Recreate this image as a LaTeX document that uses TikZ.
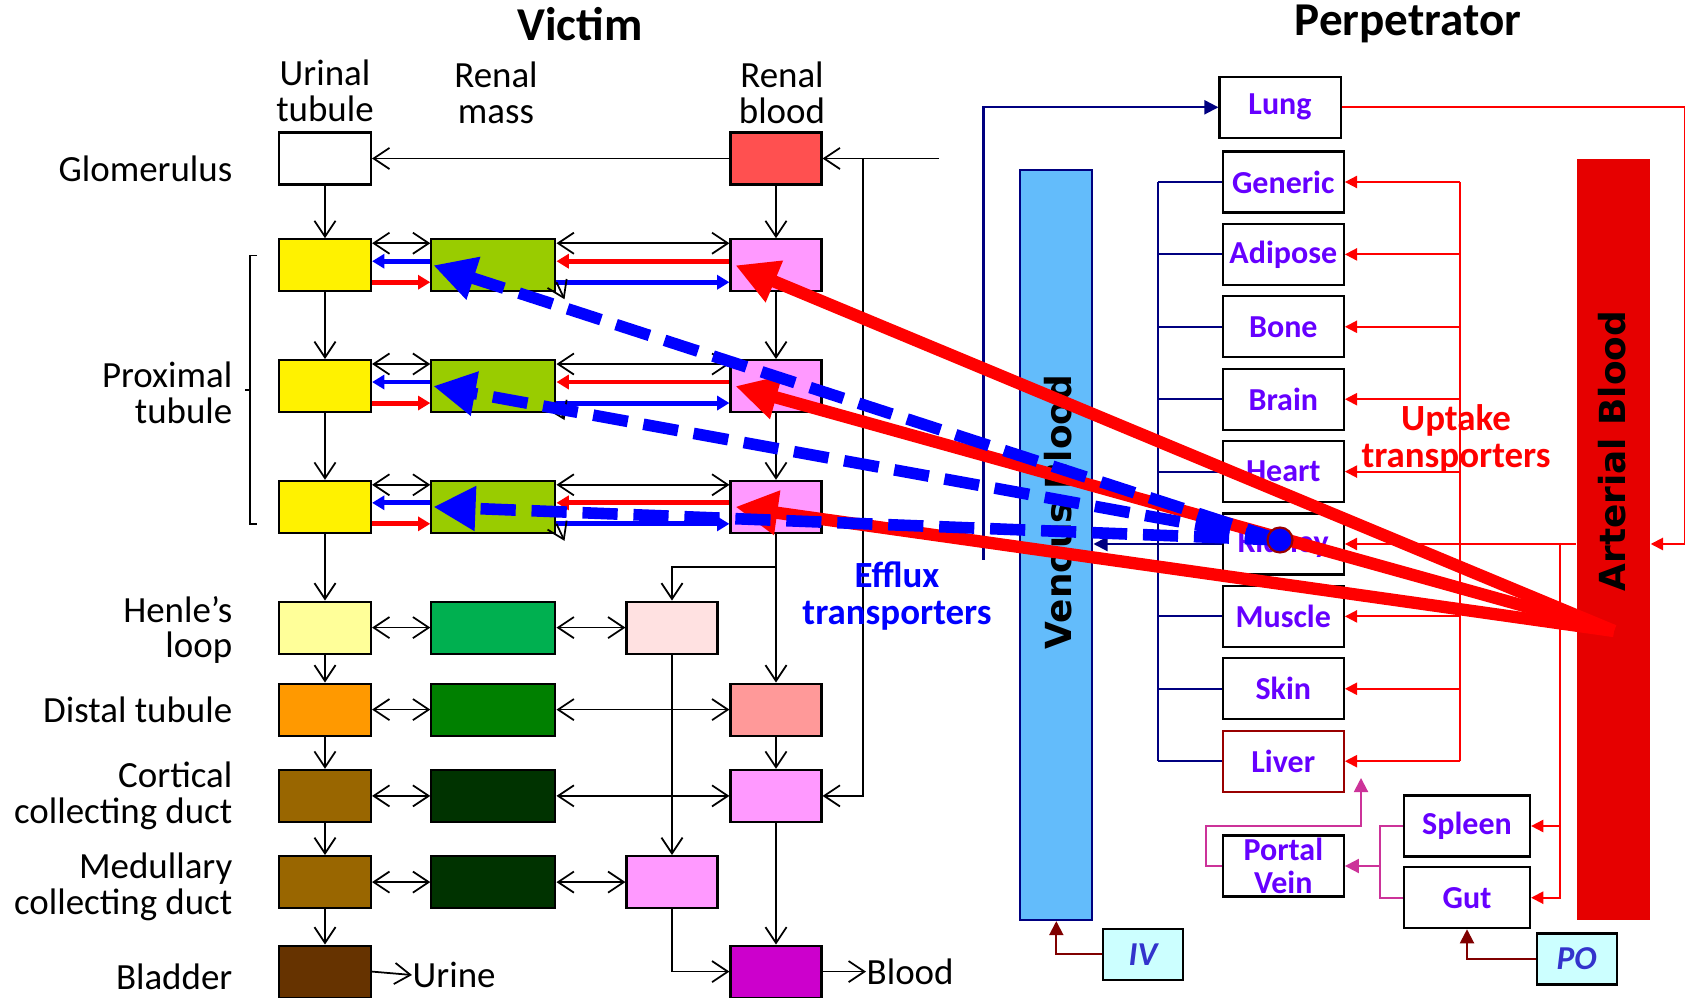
\documentclass[tikz,border=0pt]{standalone}
\usepackage{fontspec}
\setmainfont{Carlito}
\newfontfamily\barfont{DejaVu Sans}
\usetikzlibrary{arrows.meta, positioning}
\definecolor{lyel}{HTML}{FFFF99}
\definecolor{orng}{HTML}{FF9900}
\definecolor{brwn}{HTML}{996600}
\definecolor{dbrwn}{HTML}{663300}
\definecolor{mgrn}{HTML}{99CC00}
\definecolor{hgrn}{HTML}{00B050}
\definecolor{dgrn}{HTML}{008000}
\definecolor{vdgrn}{HTML}{003300}
\definecolor{rblood}{HTML}{FF5050}
\definecolor{pnk}{HTML}{FF99FF}
\definecolor{lpnk}{HTML}{FFE1E1}
\definecolor{salm}{HTML}{FF9999}
\definecolor{magn}{HTML}{CC00CC}
\definecolor{orgtxt}{HTML}{6600FF}
\definecolor{navy}{HTML}{000080}
\definecolor{venblue}{HTML}{63BCFB}
\definecolor{artred}{HTML}{E60000}
\definecolor{lvr}{HTML}{990000}
\definecolor{portalpink}{HTML}{CC3399}
\definecolor{dosered}{HTML}{800000}
\definecolor{dosebox}{HTML}{CCFFFF}
\definecolor{dosetxt}{HTML}{3333CC}

\begin{document}
\begin{tikzpicture}[x=0.01cm, y=-0.01cm]
    \tikzstyle{cell}=[draw=black, line width=0.6pt, minimum height=0.52cm, inner sep=0pt]
    \tikzstyle{ucell}=[cell, minimum width=0.92cm]
    \tikzstyle{mcell}=[cell, minimum width=1.24cm]
    \tikzstyle{bcell}=[cell, minimum width=0.91cm]
    \tikzstyle{lab}=[inner sep=0pt, font=\fontsize{10.5}{10.2}\selectfont]
    \tikzstyle{title}=[inner sep=0pt, font=\fontsize{13.4}{14}\selectfont\bfseries]
    \tikzstyle{flow}=[line width=0.5pt, -{Straight Barb[length=4.5pt,width=6pt]}]
    \tikzstyle{both}=[line width=0.5pt, {Straight Barb[length=4.5pt,width=6pt]}-{Straight Barb[length=4.5pt,width=6pt]}]
    \tikzstyle{redin}=[red, line width=1.4pt, -{Triangle[length=3.5pt,width=4pt]}]
    \tikzstyle{bluein}=[blue, line width=1.4pt, -{Triangle[length=3.5pt,width=4pt]}]
    \tikzstyle{org}=[draw=black, line width=0.6pt, minimum width=1.21cm, minimum height=0.61cm, inner sep=0pt, text=orgtxt, font=\fontsize{9.1}{9.1}\selectfont\bfseries, align=center]
    \tikzstyle{navyl}=[navy, line width=0.6pt]
    \tikzstyle{navyarr}=[navyl, -{Triangle[length=4pt,width=4pt]}]
    \tikzstyle{redl}=[red, line width=0.55pt]
    \tikzstyle{redarr}=[redl, -{Triangle[length=3.5pt,width=3.5pt]}]
    \tikzstyle{pinkl}=[portalpink, line width=0.55pt]
    \tikzstyle{pinkarr}=[pinkl, -{Triangle[length=4pt,width=4pt]}]
    \tikzstyle{doseline}=[dosered, line width=0.55pt, -{Triangle[length=4pt,width=4pt]}]
    \tikzstyle{dose}=[draw=black, line width=0.6pt, fill=dosebox, minimum width=0.8cm, minimum height=0.51cm, inner sep=0pt, text=dosetxt, font=\fontsize{9.5}{9.5}\selectfont\bfseries\itshape]
    \tikzstyle{barlab}=[inner sep=0pt, rotate=90, font=\barfont\fontsize{10.2}{10.2}\selectfont\bfseries]
    \tikzstyle{uptake}=[red, line width=3.5pt, -{Triangle[length=12pt,width=12pt]}]
    \tikzstyle{efflux}=[blue, line width=3.3pt, dash pattern=on 10pt off 4.5pt, -{Triangle[length=12pt,width=12pt]}]

    \useasboundingbox (0,0) rectangle (1691,998);

%   victim: kidney compartments
    \node[title] (victim) at (580,24) {Victim};
    \node[lab, align=center] (hU) at (325,91) {Urinal\\tubule};
    \node[lab, align=center] (hM) at (496,93) {Renal\\mass};
    \node[lab, align=center] (hB) at (782,93) {Renal\\blood};

	\foreach \n/\y/\c in {0/158.5/white, 1/265.3/yellow, 2/386.1/yellow, 3/506.9/yellow, 4/627.6/lyel, 5/709.6/orng, 6/795.9/brwn, 7/882.1/brwn, 8/971.6/dbrwn}{
		\node[ucell, fill=\c] (U-\n) at (325,\y) {};
	}
	\foreach \n/\y/\c in {1/265.3/mgrn, 2/386.1/mgrn, 3/506.9/mgrn, 4/627.6/hgrn, 5/709.6/dgrn, 6/795.9/vdgrn, 7/882.1/vdgrn}{
		\node[mcell, fill=\c] (M-\n) at (493.4,\y) {};
	}
	\foreach \n/\y/\c in {0/158.5/rblood, 1/265.3/pnk, 2/386.1/pnk, 3/506.9/pnk, 5/709.6/salm, 6/795.9/pnk, 8/971.6/magn}{
		\node[bcell, fill=\c] (B-\n) at (776,\y) {};
	}
	\node[bcell, fill=lpnk] (C-4) at (672,627.6) {};
	\node[bcell, fill=pnk] (C-7) at (672,882.1) {};

    \node[lab, anchor=east] (glom) at (233,169) {Glomerulus};
    \node[lab, anchor=east, align=right] (prox) at (233,393) {Proximal\\tubule};
    \node[lab, anchor=east, align=right] (henle) at (233,630) {Henle’s\\loop};
    \node[lab, anchor=east] (distal) at (233,709.6) {Distal tubule};
    \node[lab, anchor=east, align=right] (cort) at (233,796) {Cortical\\collecting duct};
    \node[lab, anchor=east, align=right] (medu) at (233,887) {Medullary\\collecting duct};
    \node[lab, anchor=east] (blad) at (233,977) {Bladder};
    \draw[line width=0.4pt] (257,255.6) -- (250,255.6) -- (250,524) -- (257,524);
    \draw[line width=0.4pt] (250,390) -- (245,390);

	\foreach \a/\b in {0/1,1/2,2/3,3/4,4/5,5/6,6/7,7/8}{
		\draw[flow] (U-\a.south) -- (U-\b.north);
	}
	\foreach \a/\b in {0/1,1/2,2/3,3/5,5/6,6/8}{
		\draw[flow] (B-\a.south) -- (B-\b.north);
	}
    \coordinate (split) at (776,567);
    \draw[flow] (split) -| (C-4.north);
    \draw[flow] (C-4.south) -- (C-7.north);
    \draw[flow] (C-7.south) |- (B-8.west);

    \draw[flow] (B-0.west) -- (U-0.east);
    \coordinate (feed) at (939,158.5);
    \coordinate (fork) at (863,158.5);
    \draw[flow] (feed) -- (B-0.east);
    \draw[flow] (fork) |- (B-6.east);

    \node[lab, anchor=west] (urine) at (412,975) {Urine};
    \node[lab, anchor=west] (bloodout) at (866,971.6) {Blood};
    \draw[flow] (U-8.east) -- (urine.west);
    \draw[flow] (B-8.east) -- (bloodout.west);

	\foreach \n in {1,2,3}{
		\draw[both] ([yshift=-0.05cm]U-\n.north east) -- ([yshift=-0.05cm]M-\n.north west);
		\draw[both] ([yshift=-0.05cm]M-\n.north east) -- ([yshift=-0.05cm]B-\n.north west);
		\draw[bluein] ([yshift=-0.23cm]M-\n.north west) -- ([yshift=-0.23cm]U-\n.north east);
		\draw[redin] ([yshift=-0.44cm]U-\n.north east) -- ([yshift=-0.44cm]M-\n.north west);
		\draw[redin] ([yshift=-0.23cm]B-\n.north west) -- ([yshift=-0.23cm]M-\n.north east);
		\draw[bluein] ([yshift=-0.44cm]M-\n.north east) -- ([yshift=-0.44cm]B-\n.north west);
		\draw[flow] ([yshift=-0.44cm]M-\n.north east) -- ++(8,17);
	}
	\foreach \n/\r in {4/C-4, 5/B-5, 6/B-6, 7/C-7}{
		\draw[both] (U-\n.east) -- (M-\n.west);
		\draw[both] (M-\n.east) -- (\r.west);
	}

%   perpetrator: whole body
    \node[title] (perp) at (1408,24) {Perpetrator};
    \node[draw=navy, line width=0.6pt, fill=venblue, minimum width=0.722cm, minimum height=7.495cm] (venous) at (1056.3,545.1) {};
    \node[fill=artred, minimum width=0.734cm, minimum height=7.603cm] (arterial) at (1613.3,539.8) {};
    \node[barlab] (vlab) at (1058,512) {Venous Blood};
    \node[barlab] (alab) at (1612,451) {Arterial Blood};

    \node[org] (Lung) at (1280,107.3) {Lung};
	\foreach \n [count=\i from 0] in {Generic,Adipose,Bone,Brain,Heart,Kidney,Muscle,Skin}{
		\node[org] (\n) at (1283.3,{182+72.4*\i}) {\n};
	}
    \node[org, draw=lvr] (Liver) at (1283.3,761.2) {Liver};
    \node[org, minimum width=1.26cm] (Spleen) at (1467,826) {Spleen};
    \node[org, minimum width=1.26cm] (Gut) at (1467,897.7) {Gut};
    \node[org, font=\fontsize{9.1}{9.3}\selectfont\bfseries] (Portal) at (1283.3,866) {Portal\\Vein};
    \node[dose] (IV) at (1143,954.4) {IV};
    \node[dose] (PO) at (1576.6,959) {PO};

    \coordinate (vstart) at (983.5,560);
    \draw[navyarr] (vstart) |- (Lung.west);
    \coordinate (ntop) at (1158.2,182);
    \draw[navyl] (ntop) -- (ntop |- Liver.west);
	\foreach \n in {Generic,Adipose,Bone,Brain,Heart,Kidney,Muscle,Skin,Liver}{
		\draw[navyl] (ntop |- \n.west) -- (\n.west);
	}
    \draw[navyarr] (ntop |- Kidney.west) -- (Kidney.west -| venous.east);

    \coordinate (rtop) at (1460,182);
    \draw[redl] (rtop) -- (rtop |- Liver.east);
	\foreach \n in {Generic,Adipose,Bone,Brain,Heart,Kidney,Muscle,Skin,Liver}{
		\draw[redarr] (rtop |- \n.east) -- (\n.east);
	}
    \draw[redl] (Kidney.east -| arterial.west) -- (rtop |- Kidney.east);
    \coordinate (rsplit) at (1560,543);
    \draw[redarr] (rsplit) |- (Gut.east);
    \draw[redarr] (rsplit |- Spleen.east) -- (Spleen.east);
    \coordinate (lungr) at (1684.5,107.3);
    \draw[redarr] (Lung.east) -- (lungr) |- (Kidney.east -| arterial.east);

    \coordinate (pv1) at (1205.7,826);
    \coordinate (pv2) at (1361,826);
    \coordinate (pvtip) at (1361,778);
    \draw[pinkarr] (Portal.west) -| (pv1) -- (pv2) -- (pvtip);
    \coordinate (sg) at (1380,826);
    \draw[pinkl] (Spleen.west) -| (sg |- Gut.west) -- (Gut.west);
    \draw[pinkarr] (sg |- Portal.east) -- (Portal.east);

    \draw[doseline] (IV.west) -| (venous.south);
    \draw[doseline] (PO.west) -| (Gut.south);

    \node[inner sep=0pt, align=center, text=blue, font=\fontsize{10.5}{10.5}\selectfont\bfseries] (efflab) at (897,596) {Efflux\\transporters};
    \node[inner sep=0pt, align=center, text=red, font=\fontsize{10.5}{10.5}\selectfont\bfseries] (uptlab) at (1456,439) {Uptake\\transporters};

%   transporters between perpetrator and victim
    \coordinate (art) at (1614,631);
    \coordinate (kd) at (1280,540);
	\foreach \n in {1,2,3}{
		\draw[uptake] (art) -- ([xshift=0.06cm]B-\n.west);
	}
	\foreach \n in {1,2,3}{
		\draw[efflux] (kd) -- ([xshift=0.03cm]M-\n.west);
	}
    \node[circle, fill=blue, draw=lvr, line width=0.6pt, minimum size=0.25cm, inner sep=0pt] (kdot) at (kd) {};
\end{tikzpicture}
\end{document}
